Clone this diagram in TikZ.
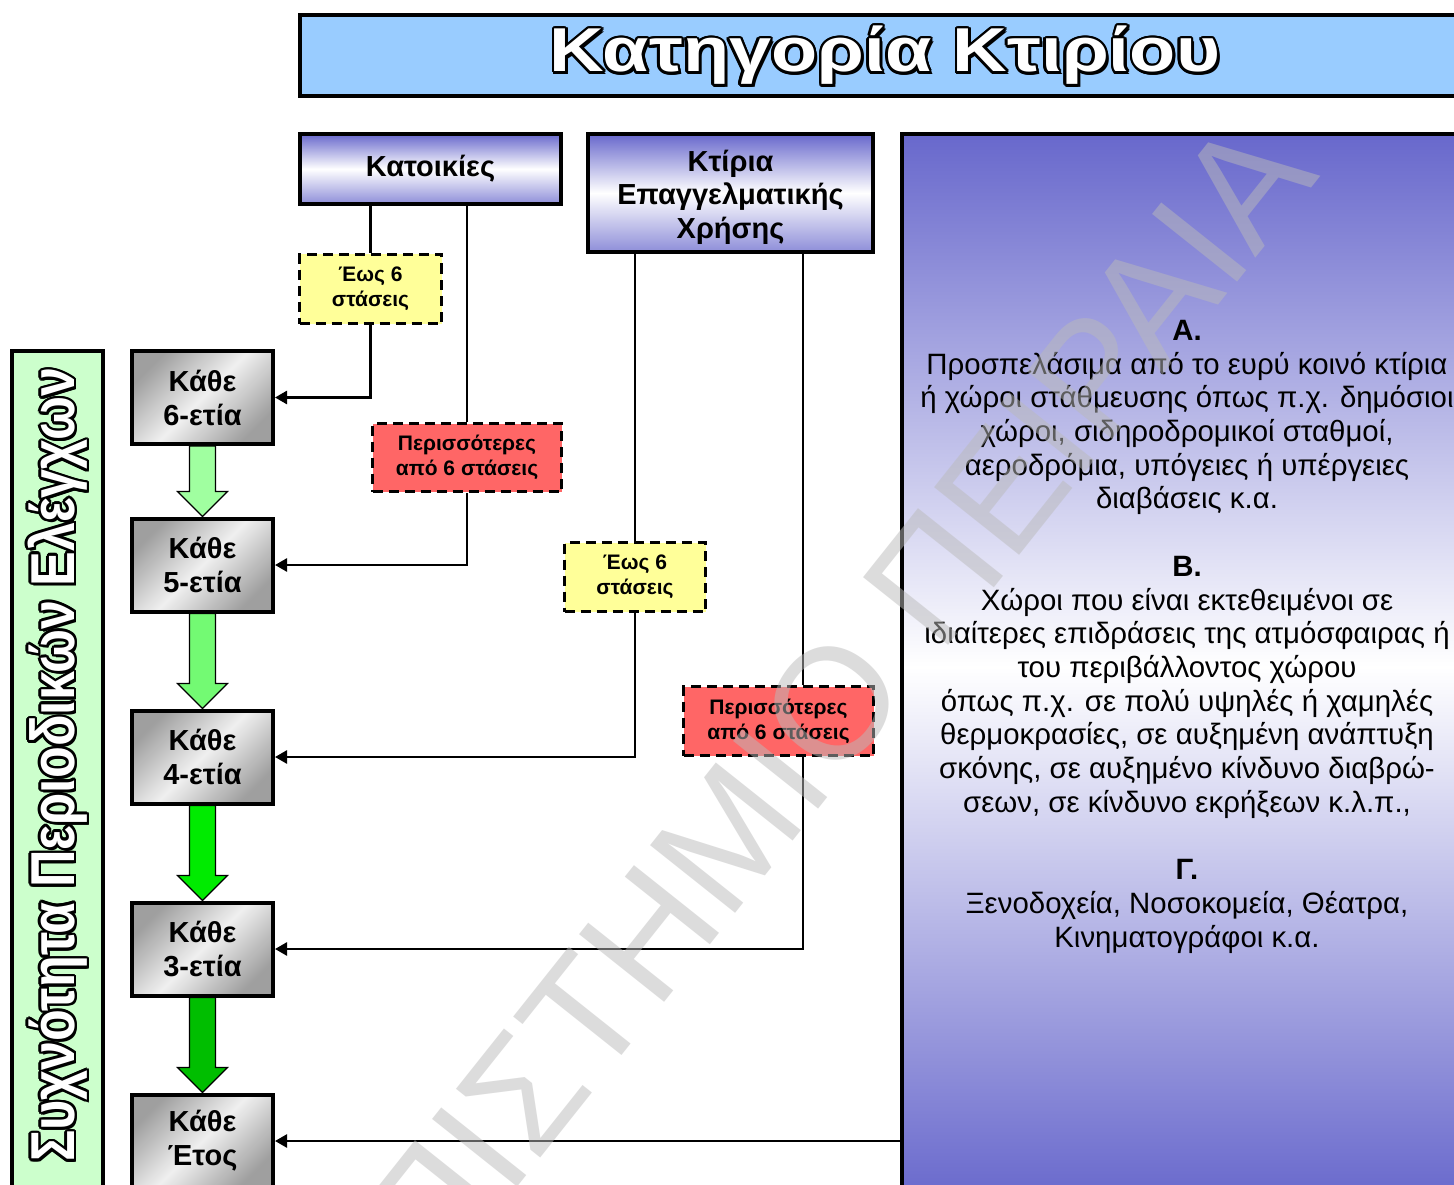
\documentclass[tikz,border=0pt]{standalone}
\usepackage{fontspec}
\setmainfont{Liberation Sans}
\newfontfamily\titlefont{Liberation Sans Bold}
\usetikzlibrary{positioning, arrows.meta, calc}
\definecolor{colTitle}{RGB}{153, 204, 255}
\definecolor{colSide}{RGB}{204, 255, 204}
\definecolor{colCat}{RGB}{104, 104, 204}
\definecolor{colYellow}{RGB}{255, 255, 153}
\definecolor{colRed}{RGB}{255, 102, 102}
\definecolor{colGreenA}{RGB}{160, 255, 160}
\definecolor{colGreenB}{RGB}{115, 250, 115}
\definecolor{colGreenC}{RGB}{0, 235, 0}
\definecolor{colGreenD}{RGB}{0, 190, 0}

\begin{document}
\begin{tikzpicture}[
		x=1pt, y=-1pt,
		catbox/.style={draw, line width=4pt, inner sep=0pt, align=center,
			top color=colCat, bottom color=colCat!75, middle color=white,
			font=\fontsize{29}{33.5}\selectfont\bfseries},
		freq/.style={draw, line width=4pt, inner sep=0pt, align=center,
			minimum width=141pt, minimum height=93pt,
			left color=gray!75, right color=gray!75, middle color=gray!12, shading angle=45,
			font=\fontsize{29}{34}\selectfont\bfseries},
		stops/.style={draw, line width=3pt, dash pattern=on 10pt off 6pt, inner sep=0pt,
			align=center, font=\fontsize{21}{25}\selectfont\bfseries},
		link/.style={line width=2.6pt},
		conn/.style={line width=2.6pt, -{Triangle[length=12pt, width=13pt]}},
		hollow/.style={inner sep=0pt, font=\titlefont\fontsize{62}{62}\selectfont},
		wmark/.style={inner sep=0pt, text=black!27, text opacity=0.5,
			font=\fontsize{158}{158}\selectfont}
		]
		\useasboundingbox (0,0) rectangle (1454,1185);
		\clip (0,0) rectangle (1454,1185);
		\fill[white] (0,0) rectangle (1454,1185);

		% frames
		\node[draw, line width=4pt, fill=colTitle, minimum width=1170pt, minimum height=81pt]
			(ttlbox) at (885,55.5) {};
		\node[draw, line width=4pt, fill=colSide, minimum width=91pt, minimum height=849pt]
			(side) at (57.5,775.5) {};
		\node[draw, line width=4pt, top color=colCat, bottom color=colCat, middle color=white,
			minimum width=568pt, minimum height=1066pt] (panel) at (1186,667) {};

		% building categories
		\node[catbox, minimum width=261pt, minimum height=70pt] (kat) at (430.5,169) {Κατοικίες};
		\node[catbox, minimum width=285pt, minimum height=118pt] (ktr) at (730.5,193) {};
		\node[inner sep=0pt, align=center, font=\fontsize{29}{33.5}\selectfont\bfseries]
			(ktrtxt) at ($(ktr.center)+(0,4)$) {Κτίρια\\Επαγγελματικής\\Χρήσης};

		\node[stops, fill=colYellow, minimum width=142pt, minimum height=69pt] (ye1) at (370.5,289)
			{Έως 6\\στάσεις};
		\node[stops, fill=colRed, minimum width=189pt, minimum height=68pt] (re1) at (467,457.5)
			{Περισσότερες\\από 6 στάσεις};
		\node[stops, fill=colYellow, minimum width=141pt, minimum height=69pt] (ye2) at (635,577)
			{Έως 6\\στάσεις};
		\node[stops, fill=colRed, minimum width=190pt, minimum height=69pt] (re2) at (778.5,721)
			{Περισσότερες\\από 6 στάσεις};

		% inspection intervals
		\node[freq] (k6) at (202.5,397.5) {Κάθε\\6-ετία};
		\node[freq] (k5) at (202.5,565) {Κάθε\\5-ετία};
		\node[freq] (k4) at (202.5,757) {Κάθε\\4-ετία};
		\node[freq] (k3) at (202.5,949) {Κάθε\\3-ετία};
		\node[freq] (k1) at (202.5,1141) {Κάθε\\Έτος};

		\foreach \a/\b/\c in {k6/k5/colGreenA, k5/k4/colGreenB, k4/k3/colGreenC, k3/k1/colGreenD}
			\draw[line width=1.2pt, fill=\c] let \p1=(\a.south), \p2=(\b.north) in
				(\x1-13pt,\y1) -- (\x1+13pt,\y1) -- (\x1+13pt,\y2+25pt) -- (\x1+25pt,\y2+25pt)
				-- (\x1,\y2) -- (\x1-25pt,\y2+25pt) -- (\x1-13pt,\y2+25pt) -- cycle;

		% connectors
		\path (re2.center) ++(24.5,0) coordinate (re2mid);
		\draw[link] (ye1.north) -- (ye1.north |- kat.south);
		\draw[link] (re1.north) -- (re1.north |- kat.south);
		\draw[link] (ye2.north) -- (ye2.north |- ktr.south);
		\draw[link] (re2mid |- re2.north) -- (re2mid |- ktr.south);
		\draw[conn] (ye1.south) |- (k6.east);
		\draw[conn] (re1.south) |- (k5.east);
		\draw[conn] (ye2.south) |- (k4.east);
		\draw[conn] (re2mid |- re2.south) |- (k3.east);
		\draw[conn] (panel.west |- k1.east) -- (k1.east);

		% panel text
		\node[anchor=north, inner sep=0pt, align=center, font=\fontsize{29.4}{33.7}\selectfont]
			(descr) at (1187,320) {{\bfseries Α.}\\
			Προσπελάσιμα από το ευρύ κοινό κτίρια\\
			ή χώροι στάθμευσης όπως π.χ. δημόσιοι\\
			χώροι, σιδηροδρομικοί σταθμοί,\\
			αεροδρόμια, υπόγειες ή υπέργειες\\
			διαβάσεις κ.α.\\[33.7pt]
			{\bfseries Β.}\\
			Χώροι που είναι εκτεθειμένοι σε\\
			ιδιαίτερες επιδράσεις της ατμόσφαιρας ή\\
			του περιβάλλοντος χώρου\\
			όπως π.χ. σε πολύ υψηλές ή χαμηλές\\
			θερμοκρασίες, σε αυξημένη ανάπτυξη\\
			σκόνης, σε αυξημένο κίνδυνο διαβρώ-\\
			σεων, σε κίνδυνο εκρήξεων κ.λ.π.,\\[33.7pt]
			{\bfseries Γ.}\\
			Ξενοδοχεία, Νοσοκομεία, Θέατρα,\\
			Κινηματογράφοι κ.α.};

		% outlined headings
		\foreach \a in {0,22.5,...,337.5} {
			\node[hollow, text=black] at ($(ttlbox.center)+(\a:2.5)$)
				{\scalebox{1.22}[1]{Κατηγορία Κτιρίου}};
			\node[hollow, text=black, rotate=90] at ($(57.5,765)+(\a:2.5)$)
				{\scalebox{0.84}[1]{Συχνότητα Περιοδικών Ελέγχων}};
		}
		\node[hollow, text=black] at ($(ttlbox.center)+(3,3)$) {\scalebox{1.22}[1]{Κατηγορία Κτιρίου}};
		\node[hollow, text=black, rotate=90] at (60,768) {\scalebox{0.84}[1]{Συχνότητα Περιοδικών Ελέγχων}};
		\node[hollow, text=white] (ttl) at (ttlbox.center) {\scalebox{1.22}[1]{Κατηγορία Κτιρίου}};
		\node[hollow, text=white, rotate=90] (sidettl) at (57.5,765)
			{\scalebox{0.84}[1]{Συχνότητα Περιοδικών Ελέγχων}};

		% watermark
		\node[wmark, rotate=51.5] (wm) at (700,870) {ΠΑΝΕΠΙΣΤΗΜΙΟ ΠΕΙΡΑΙΑ};
	\end{tikzpicture}
\end{document}
